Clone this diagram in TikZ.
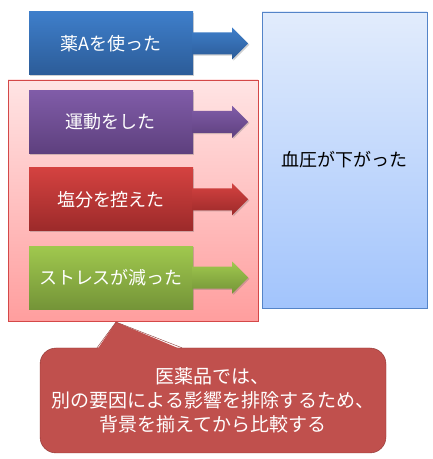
\documentclass[tikz,border=0pt]{standalone}
\usepackage{fontspec}
\newfontfamily\jp{Noto Sans CJK JP}
\usetikzlibrary{calc,positioning,shadows}

\definecolor{bluetop}{RGB}{62,126,202}
\definecolor{bluebot}{RGB}{44,92,152}
\definecolor{purptop}{RGB}{128,92,168}
\definecolor{purpbot}{RGB}{94,64,126}
\definecolor{redtop}{RGB}{212,66,64}
\definecolor{redbot}{RGB}{156,42,42}
\definecolor{greentop}{RGB}{160,200,78}
\definecolor{greenbot}{RGB}{116,148,56}
\definecolor{areatop}{RGB}{255,228,228}
\definecolor{areabot}{RGB}{255,158,158}
\definecolor{arealine}{RGB}{212,72,72}
\definecolor{resulttop}{RGB}{226,236,252}
\definecolor{resultbot}{RGB}{162,196,252}
\definecolor{resultline}{RGB}{84,132,200}
\definecolor{callfill}{RGB}{192,80,77}
\definecolor{callline}{RGB}{140,52,50}

\tikzset{
  soft shadow/.style={drop shadow={shadow xshift=1.2pt, shadow yshift=-1.2pt, opacity=.3, fill=black!60}},
  causebox/.style={minimum width=164pt, minimum height=63pt, inner sep=0pt, text=white,
    font=\jp\fontsize{18}{22}\selectfont, soft shadow},
}

\begin{document}
\begin{tikzpicture}[x=1pt, y=1pt]
  \useasboundingbox (0,0) rectangle (433,459);

  % 1) group of other factors
  \node[draw=arealine, top color=areatop, bottom color=areabot, minimum width=250pt,
    minimum height=241pt, inner sep=0pt, soft shadow] (area) at (133,258.5) {};

  % 2) causes
  \node[causebox, top color=bluetop, bottom color=bluebot] (drug) at (111,415.5) {薬Aを使った};
  \node[causebox, top color=purptop, bottom color=purpbot, below=15pt of drug] (sport) {運動をした};
  \node[causebox, top color=redtop, bottom color=redbot, below=14pt of sport] (salt) {塩分を控えた};
  \node[causebox, top color=greentop, bottom color=greenbot, below=15pt of salt] (stress) {ストレスが減った};

  % block arrows
  \foreach \b/\c in {drug/blue, sport/purp, salt/red, stress/green}
    \shade[top color=\c top, bottom color=\c bot, soft shadow]
      ($(\b.east)+(-1,11)$) -- ++(40,0) -- ++(0,5) -- ($(\b.east)+(55,0)$)
      -- ($(\b.east)+(39,-16)$) -- ++(0,5) -- ($(\b.east)+(-1,-11)$) -- cycle;

  % 3) result
  \node[draw=resultline, top color=resulttop, bottom color=resultbot, minimum width=165pt,
    minimum height=296pt, inner sep=0pt, soft shadow,
    font=\jp\fontsize{18}{22}\selectfont] (result) at (344.5,299) {血圧が下がった};

  % 4) note
  \node[draw=callline, fill=callfill, rounded corners=16pt, minimum width=346pt,
    minimum height=105pt, text=white, align=center,
    font=\jp\fontsize{19}{24}\selectfont] (note) at (213,58.5)
    {医薬品では、\\別の要因による影響を排除するため、\\背景を揃えてから比較する};
  \coordinate (tip) at (116,137);
  \fill[callfill] ($(note.north)+(-116,-2)$) -- (tip) -- ($(note.north)+(-31,-2)$) -- cycle;
  \draw[callline] ($(note.north)+(-116,0)$) -- (tip) -- ($(note.north)+(-31,0)$);
\end{tikzpicture}
\end{document}
